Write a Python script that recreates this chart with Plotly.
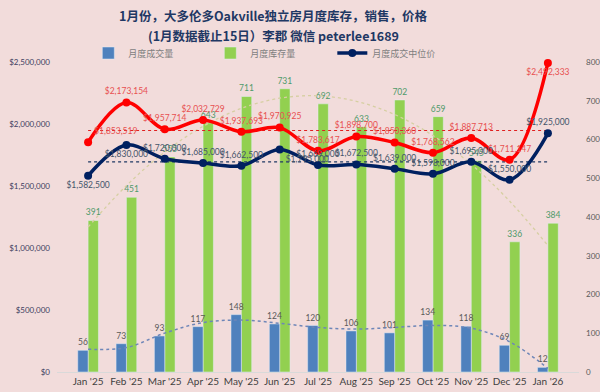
import numpy as np
import plotly.graph_objects as go

months = ["Jan '25", "Feb '25", "Mar '25", "Apr '25", "May '25", "Jun '25", "Jul '25",
          "Aug '25", "Sep '25", "Oct '25", "Nov '25", "Dec '25", "Jan '26"]
sales = [56, 73, 93, 117, 148, 124, 120, 106, 101, 134, 118, 69, 12]
inventory = [391, 451, 555, 643, 711, 731, 692, 633, 702, 659, 545, 336, 384]
median_price = [1582500, 1830000, 1720000, 1685000, 1662500, 1795000, 1669000,
                1672500, 1639000, 1598000, 1695000, 1550000, 1925000]
avg_price = [1853519, 2173154, 1957714, 2032729, 1937693, 1970925, 1783617,
             1898700, 1850360, 1768562, 1887713, 1711147, 2492333]

idx = np.arange(len(months))
inv_trend = np.polyval(np.polyfit(idx, inventory, 2), idx)
sales_trend = np.polyval(np.polyfit(idx, sales, 6), idx)
avg_mean = [float(np.mean(avg_price))] * len(months)
med_mean = [float(np.mean(median_price))] * len(months)

LAB = "Lato"
BW = 0.27
fig = go.Figure()

fig.add_trace(go.Bar(x=months, y=inventory, name="月度库存量", marker_color="#92D050",
                     width=BW, offset=0, legendrank=2,
                     text=inventory, textposition="outside", cliponaxis=False, constraintext="none",
                     textfont=dict(size=8.5, color="#4E9A6A", family=LAB), yaxis="y"))
fig.add_trace(go.Bar(x=months, y=sales, name="月度成交量", marker_color="#4F81BD",
                     width=BW, offset=-BW, legendrank=1,
                     text=sales, textposition="outside", cliponaxis=False, constraintext="none",
                     textfont=dict(size=8.5, color="#595959", family=LAB), yaxis="y"))
fig.add_trace(go.Scatter(x=months, y=inv_trend, mode="lines", line=dict(color="#D6CFA2", width=1.3, dash="dot", shape="spline"),
                         showlegend=False, hoverinfo="skip", yaxis="y"))
fig.add_trace(go.Scatter(x=months, y=sales_trend, mode="lines", line=dict(color="#6E86B8", width=1.5, dash="dot", shape="spline"),
                         showlegend=False, hoverinfo="skip", yaxis="y"))

fig.add_trace(go.Scatter(x=months, y=avg_mean, mode="lines", line=dict(color="#E02020", width=1.2, dash="dot"),
                         showlegend=False, hoverinfo="skip", yaxis="y2"))
fig.add_trace(go.Scatter(x=months, y=med_mean, mode="lines", line=dict(color="#1F3864", width=1.2, dash="dot"),
                         showlegend=False, hoverinfo="skip", yaxis="y2"))

red_pos = ["top right"] + ["top center"] * 11 + ["bottom center"]
fig.add_trace(go.Scatter(x=months, y=avg_price, mode="lines+markers+text", name="平均价",
                         line=dict(color="#FF0000", width=3.5, shape="spline"),
                         marker=dict(size=8, color="#FF0000"),
                         text=avg_price, texttemplate="$%{y:,.0f}", textposition=red_pos,
                         textfont=dict(size=8.5, color="#E85050", family=LAB),
                         showlegend=False, cliponaxis=False, yaxis="y2"))
navy_pos = ["bottom center", "bottom center", "top center", "top center", "top center", "bottom right",
            "top center", "top center", "top center", "top center", "top center", "top center", "top center"]
fig.add_trace(go.Scatter(x=months, y=median_price, mode="lines+markers+text", name="月度成交中位价",
                         line=dict(color="#002060", width=3.5, shape="spline"),
                         marker=dict(size=8, color="#002060"), legendrank=3,
                         text=median_price, texttemplate="$%{y:,.0f}", textposition=navy_pos,
                         textfont=dict(size=8.5, color="#44546A", family=LAB),
                         cliponaxis=False, yaxis="y2"))

fig.update_layout(
    width=600, height=392,
    margin=dict(l=57, r=21, t=62, b=20, autoexpand=False),
    paper_bgcolor="#F2DCDB", plot_bgcolor="#F2DCDB",
    barmode="overlay",
    font=dict(family=LAB, color="#404040"),
    showlegend=True,
    legend=dict(orientation="h", xref="paper", x=0.06, yref="paper", y=(372 - 53) / 310, yanchor="middle",
                font=dict(size=9, color="#7F7F7F", family="Noto Sans CJK SC"),
                bgcolor="rgba(0,0,0,0)", entrywidth=77, traceorder="normal"),
    xaxis=dict(showgrid=False, showline=True, linecolor="#D9D9D9", linewidth=1,
               tickfont=dict(size=10, color="#404040", family=LAB), ticks=""),
    yaxis=dict(side="right", range=[0, 800], dtick=100, showgrid=False, zeroline=False,
               tickfont=dict(size=8, color="#595959", family=LAB), ticklabelstandoff=6),
    yaxis2=dict(side="left", overlaying="y", range=[0, 2500000], dtick=500000, showgrid=False,
                zeroline=False, tickformat="$,.0f",
                tickfont=dict(size=8, color="#404060", family=LAB), ticklabelstandoff=6),
    annotations=[
        dict(text="<b>1月份，大多伦多Oakville独立房月度库存，销售，价格</b>", xref="paper", yref="paper",
             x=0.414, y=(372 - 16) / 310, xanchor="center", yanchor="middle", showarrow=False,
             font=dict(size=12.5, color="#1F3864", family="Noto Sans CJK SC")),
        dict(text="<b>(1月数据截止15日）李郡 微信 peterlee1689</b>", xref="paper", yref="paper",
             x=0.414, y=(372 - 36) / 310, xanchor="center", yanchor="middle", showarrow=False,
             font=dict(size=12.5, color="#1F3864", family="Noto Sans CJK SC")),
    ],
)

fig.write_html("out.html", config={"displayModeBar": False},
               post_script="document.body.style.margin='0';document.body.style.padding='0';")
